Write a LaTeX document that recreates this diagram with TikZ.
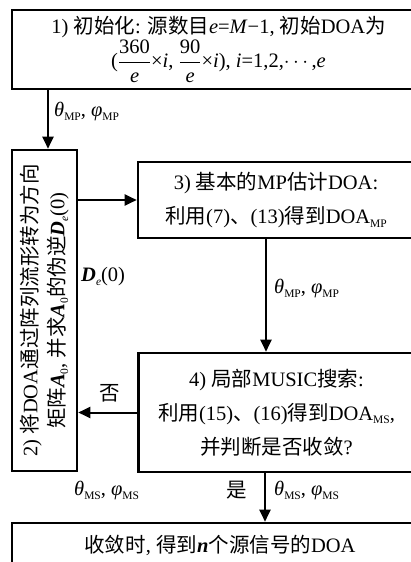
\documentclass[tikz,border=0pt]{standalone}
\usepackage{amsmath}
\usepackage{fontspec}
\setmainfont{Liberation Serif}
\newfontfamily\cjk{Noto Sans CJK SC}
\usetikzlibrary{arrows.meta,calc}
\newcommand\zh[1]{{\cjk #1}}
\newcommand\bi[1]{\textbf{\textit{#1}}}
\newcommand\sbs[1]{\raisebox{-0.18em}{\fontsize{11.5}{12}\selectfont #1}}
\begin{document}
\begin{tikzpicture}[x=1pt,y=-1pt,
  box/.style={draw,line width=2.6pt,inner sep=0pt,align=center,font=\fontsize{20.5}{34}\selectfont},
  arr/.style={line width=2pt,-{Triangle[length=12pt,width=11pt]}},
  lbl/.style={inner sep=0pt,font=\fontsize{20.5}{24}\selectfont}]
\useasboundingbox (0,0) rectangle (411,562);
\clip (0,0) rectangle (411,562);
\node[box,minimum width=413pt,minimum height=79pt] (b1) at (218.5,49.5)
  {1) \zh{初始化}: \zh{源数目}\textit{e}=\textit{M}−1, \zh{初始}DOA\zh{为}\\
   ($\dfrac{\text{360}}{\textit{e}}$×\textit{i}, $\dfrac{\text{90}}{\textit{e}}$×\textit{i}), \textit{i}=1,2,$\cdots$,\textit{e}};
\node[box,minimum width=65pt,minimum height=321pt] (b2) at (44.5,310.5) {};
\node[rotate=90,align=center,inner sep=0pt,font=\fontsize{20.5}{27}\selectfont] (t2) at (b2.center)
  {2) \zh{将}DOA\zh{通过阵列流形转为方向}\\
   \zh{矩阵}\bi{A}\sbs{0}, \zh{并求}\bi{A}\sbs{0}\zh{的伪逆}\bi{D}\sbs{\textit{e}}(0)};
\node[box,minimum width=276pt,minimum height=76pt] (b3) at (276,200)
  {3) \zh{基本的}MP\zh{估计}DOA:\\
   \zh{利用}(7)\zh{、}(13)\zh{得到}DOA\sbs{MP}};
\node[box,minimum width=276pt,minimum height=119pt] (b4) at (276.5,412.5)
  {4) \zh{局部}MUSIC\zh{搜索}:\\
   \zh{利用}(15)\zh{、}(16)\zh{得到}DOA\sbs{MS},\\
   \zh{并判断是否收敛}?};
\node[box,minimum width=416pt,minimum height=44pt] (b5) at (220,545)
  {\zh{收敛时}, \zh{得到}\bi{n}\zh{个源信号的}DOA};
% connectors
\draw[arr] ([xshift=3.5pt]b2.north |- b1.south) -- ([xshift=3.5pt]b2.north);
\draw[arr] (b2.east |- b3.west) -- (b3.west);
\draw[arr] ([xshift=-10pt]b3.south) -- ([xshift=-10pt]b3.south |- b4.north);
\draw[arr] (b4.west) -- (b4.west -| b2.east);
\draw[arr] ([xshift=-11.5pt]b4.south) -- ([xshift=-11.5pt]b4.south |- b5.north);
% labels
\node[lbl,anchor=west] (l1) at (54,112) {\textit{θ}\sbs{MP}, \textit{φ}\sbs{MP}};
\node[lbl,anchor=west] (l2) at (81,277) {\bi{D}\sbs{\textit{e}}(0)};
\node[lbl,anchor=west] (l3) at (274,289) {\textit{θ}\sbs{MP}, \textit{φ}\sbs{MP}};
\node[lbl] (l4) at (110,393) {\zh{否}};
\node[lbl,anchor=west] (l5) at (74,491) {\textit{θ}\sbs{MS}, \textit{φ}\sbs{MS}};
\node[lbl] (l6) at (237,490) {\zh{是}};
\node[lbl,anchor=west] (l7) at (274,491) {\textit{θ}\sbs{MS}, \textit{φ}\sbs{MS}};
\end{tikzpicture}
\end{document}
